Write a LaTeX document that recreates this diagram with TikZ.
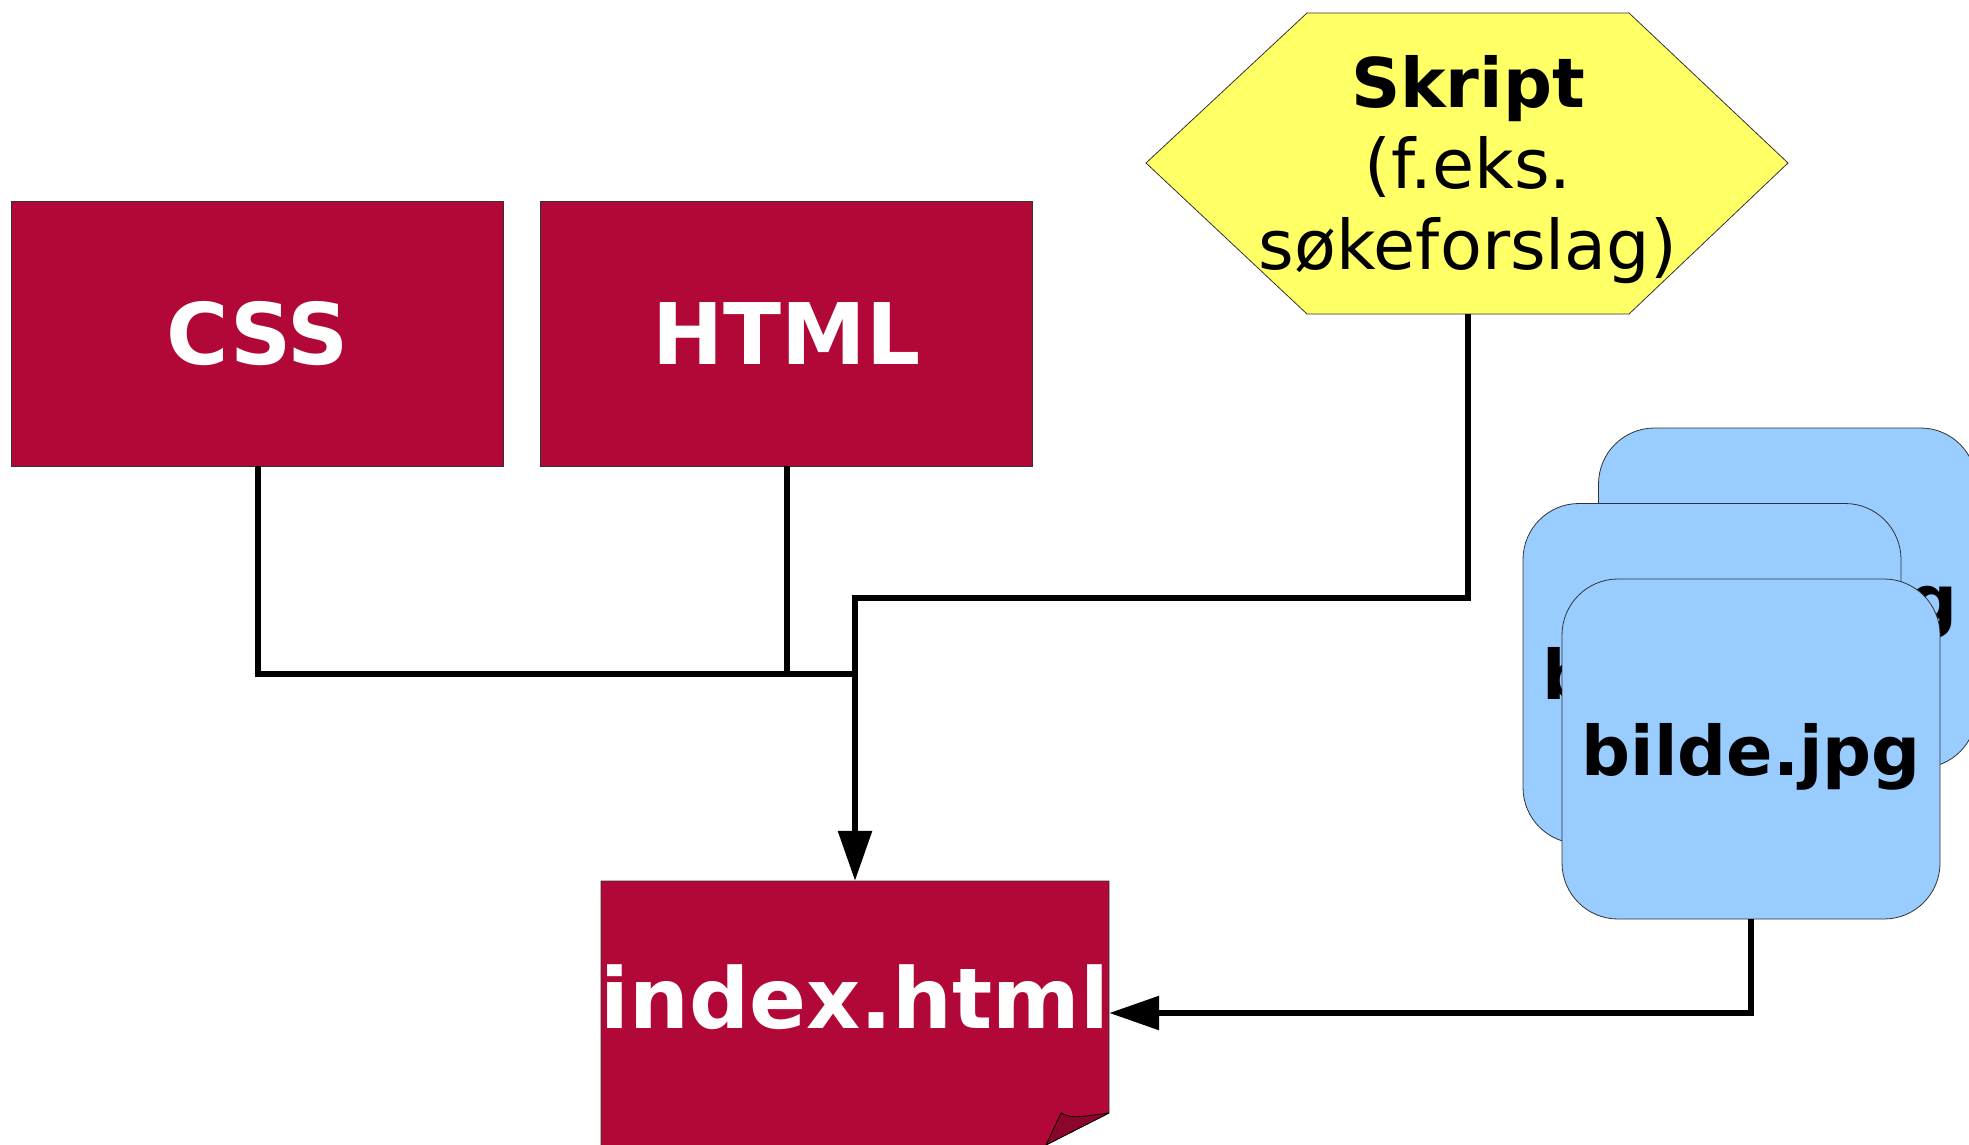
\documentclass[tikz,border=0pt]{standalone}
\usepackage{fontspec}
\setmainfont{DejaVu Sans}
\usetikzlibrary{arrows.meta,positioning,calc}
\definecolor{webred}{RGB}{178,8,56}
\definecolor{foldred}{RGB}{140,5,42}
\definecolor{scriptyellow}{RGB}{255,255,102}
\definecolor{imgblue}{RGB}{153,204,255}

\begin{document}
\begin{tikzpicture}
[x=1pt,y=-1pt,
srcbox/.style={draw=black!80,fill=webred,text=white,line width=.8pt,minimum width=492pt,minimum height=265pt,inner sep=0pt,font=\fontsize{85}{100}\selectfont\bfseries},
imgbox/.style={draw=black!80,fill=imgblue,rounded corners=56pt,line width=.8pt,minimum width=378pt,minimum height=340pt,inner sep=0pt,text depth=0pt,font=\fontsize{68.5}{81}\selectfont\bfseries},
link/.style={line width=6pt},
linkarrow/.style={link,-{Triangle[length=50pt,width=33pt]}}]
\useasboundingbox (0,0) rectangle (1969,1145);

% kildefiler
\node[srcbox] (css) at (257.5,333.5) {CSS};
\node[srcbox] (html) at (786.5,333.5) {HTML};

% skript
\filldraw[fill=scriptyellow,draw=black!80,line width=.8pt] (1307,13) -- (1629,13) -- (1788,163) -- (1629,314) -- (1307,314) -- (1146,163) -- cycle;
\node[minimum width=322pt,minimum height=289pt,inner sep=0pt,align=center,font=\fontsize{68.5}{81}\selectfont] (skript) at (1468,169.5) {\textbf{Skript}\\(f.eks.\\søkeforslag)};

% bilder
\node[imgbox] (imgback) at (1787.5,598) {bilde.jpg};
\node[imgbox] (imgmid) at (1712,673.5) {bilde.jpg};
\node[imgbox] (img) at (1751,749) {bilde.jpg};

% index.html
\filldraw[fill=webred,draw=black!80,line width=.8pt] (601,881) -- (1109,881) -- (1109,1113) -- (983,1177) -- (601,1177) -- cycle;
\filldraw[fill=foldred,draw=black,line width=.8pt] (1109,1113) -- (1046,1145) -- (1061,1113) .. controls (1072,1118) .. (1109,1113);
\node[minimum width=508pt,minimum height=232pt,inner sep=0pt,text=white,font=\fontsize{84}{100}\selectfont\bfseries] (index) at (855,997) {index.html};

% koblinger
\coordinate (join) at (index.north |- 0,674);
\coordinate (bend) at (index.north |- 0,598);
\draw[link] (css.south) |- (join);
\draw[link] (html.south) -- (html.south |- join);
\draw[linkarrow] (skript.south) |- (bend) -- (index.north);
\draw[linkarrow] (img.south) |- ([yshift=-16pt]index.east);
\end{tikzpicture}
\end{document}
